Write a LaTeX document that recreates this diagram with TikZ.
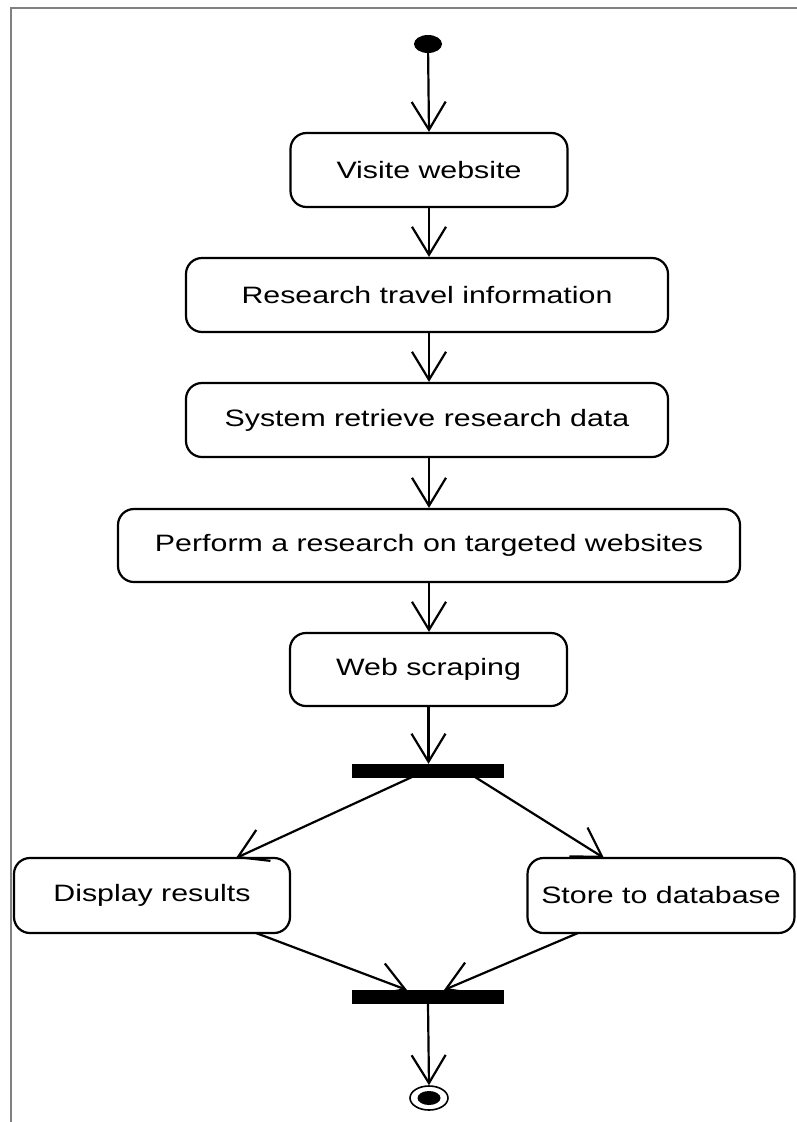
\documentclass[tikz,border=0pt]{standalone}
\usepackage{fontspec}
\setmainfont{Liberation Sans}
\newfontfamily\actfont[FakeStretch=1.28]{Liberation Sans}
\usetikzlibrary{arrows.meta,shapes.geometric}
\tikzset{
  activity/.style={draw=black, fill=white, line width=2.2pt, rounded corners=16pt,
    inner sep=0pt, font=\actfont\fontsize{23.7}{28}\selectfont, text=black},
  syncbar/.style={fill=black, draw=none, inner sep=0pt, minimum width=152pt, minimum height=14pt},
  flow/.style={line width=2.2pt, -{Straight Barb[length=28pt,width=34pt,line width=2.2pt]}},
  frameline/.style={draw=black!50, line width=2pt}
}
\begin{document}
\begin{tikzpicture}[x=1pt,y=-1pt]
  \useasboundingbox (0,0) rectangle (797,1122);
  % page frame (top and left edges only)
  \draw[frameline] (11,1122) -- (11,8) -- (797,8);

  % initial node
  \node[ellipse, fill=black, inner sep=0pt, minimum width=28pt, minimum height=18pt] (start) at (428,44) {};

  % activities
  \node[activity, minimum width=277pt, minimum height=74pt] (visit)    at (429,170)   {Visite website};
  \node[activity, minimum width=482pt, minimum height=74pt] (research) at (427,295)   {Research travel information};
  \node[activity, minimum width=482pt, minimum height=74pt] (retrieve) at (427,420)   {System retrieve research data};
  \node[activity, minimum width=622pt, minimum height=73pt] (perform)  at (429,545.5) {Perform a research on targeted websites};
  \node[activity, minimum width=277pt, minimum height=73pt] (scrape)   at (428.5,669.5) {Web scraping};

  % fork
  \node[syncbar] (fork) at (428,771) {};
  \node[activity, minimum width=276pt, minimum height=75pt] (display) at (152,895.5) {Display results};
  \node[activity, minimum width=267pt, minimum height=75pt] (store)   at (661,895.5) {Store to database};

  % join
  \node[syncbar] (join) at (428,996.5) {};

  % final node
  \node[ellipse, draw=black, line width=1.6pt, fill=white, inner sep=0pt,
        minimum width=38pt, minimum height=24pt] (end) at (429,1098) {};
  \node[ellipse, fill=black, inner sep=0pt, minimum width=23pt, minimum height=14pt] (endcore) at (end.center) {};

  % connector anchors on the bars and boxes
  \coordinate (forkL) at (412,777);
  \coordinate (forkR) at (475,777);
  \coordinate (dispIn) at (236,858);
  \coordinate (storeIn) at (604,858);
  \coordinate (dispOut) at (256,933);
  \coordinate (storeOut) at (578,933);
  \coordinate (joinL) at (407,990);
  \coordinate (joinR) at (444,990);

  % control flow
  \draw[flow] (start) -- (visit.north);
  \draw[flow] (visit.south) -- (visit.south |- research.north);
  \draw[flow] (visit.south |- research.south) -- (visit.south |- retrieve.north);
  \draw[flow] (visit.south |- retrieve.south) -- (visit.south |- perform.north);
  \draw[flow] (visit.south |- perform.south) -- (visit.south |- scrape.north);
  \draw[flow] (scrape.south) -- (scrape.south |- fork.north);
  \draw[flow] (forkL) -- (dispIn);
  \draw[flow] (forkR) -- (storeIn);
  \draw[flow] (dispOut) -- (joinL);
  \draw[flow] (storeOut) -- (joinR);
  \draw[flow] (join.south) -- (end.north);
\end{tikzpicture}
\end{document}
